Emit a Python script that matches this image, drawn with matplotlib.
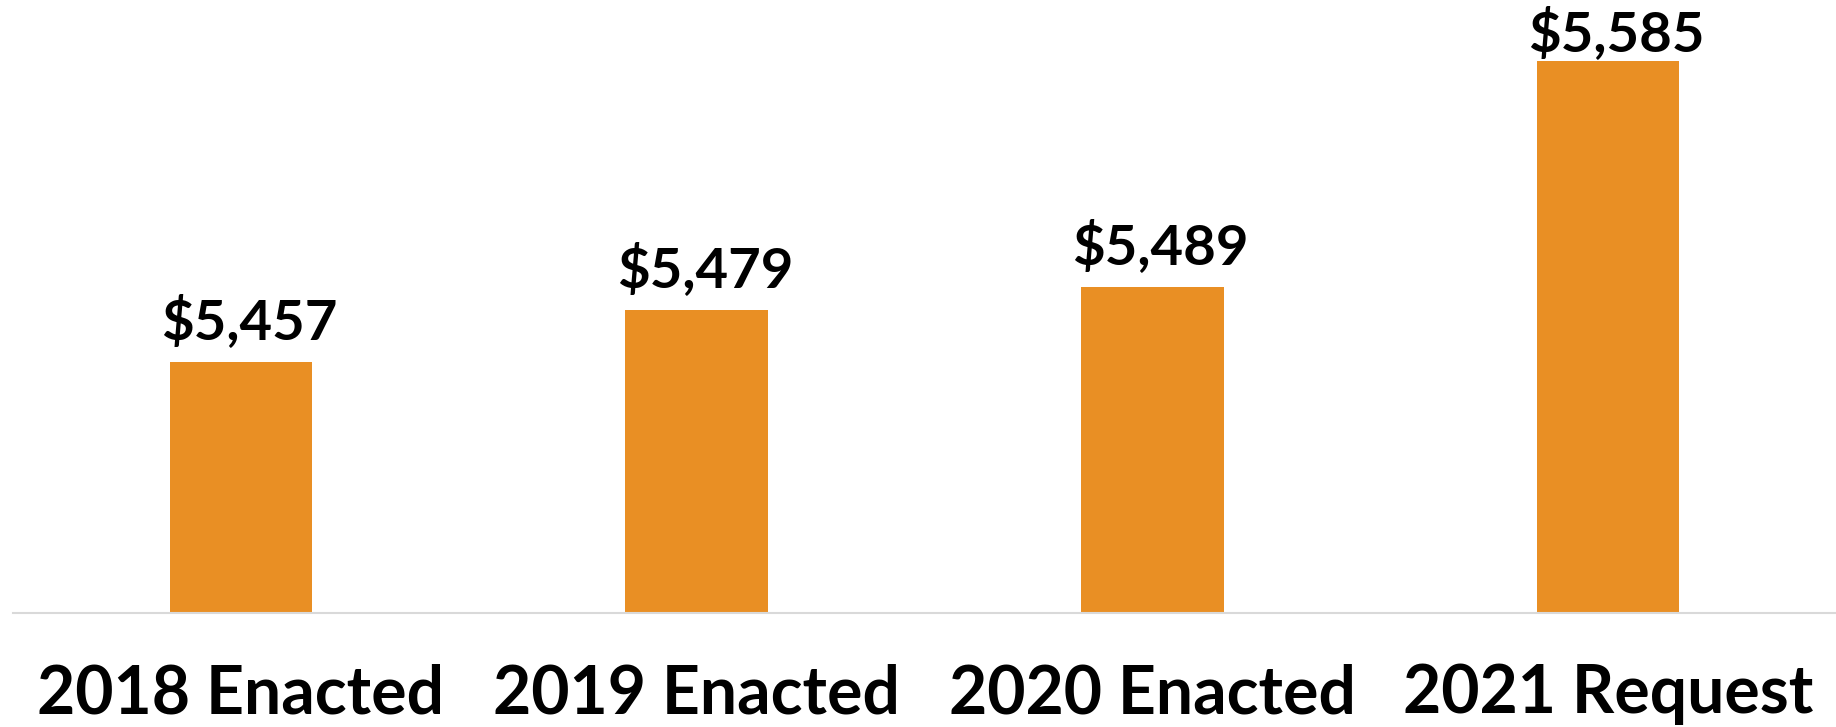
import matplotlib
matplotlib.use("Agg")
import matplotlib.pyplot as plt

categories = ["2018 Enacted", "2019 Enacted", "2020 Enacted", "2021 Request"]
values = [5457, 5479, 5489, 5585]
value_labels = ["$5,457", "$5,479", "$5,489", "$5,585"]

W, H, DPI = 1836, 727, 100
fig = plt.figure(figsize=(W / DPI, H / DPI), dpi=DPI)
ax = fig.add_axes([13 / W, (H - 613) / H, (W - 13) / W, 613 / H])

ymin, ymax = 5350, 5611
ax.bar(range(len(categories)), values, width=0.313, color="#E98F24", zorder=2)
ax.set_xlim(-0.5, len(categories) - 0.5)
ax.set_ylim(ymin, ymax)

for i, (v, lab) in enumerate(zip(values, value_labels)):
    y = min(v + 9.8, ymax - 21.7)
    ax.annotate(lab, (i, y), xytext=(6, 0), textcoords="offset points",
                ha="center", va="baseline", fontsize=40.5, fontweight="bold",
                family=["Lato", "DejaVu Sans"], color="black")

ax.set_xticks(range(len(categories)))
ax.set_xticklabels(categories, fontsize=47.5, fontweight="bold",
                   family=["Lato", "DejaVu Sans"], color="black")
ax.tick_params(axis="x", length=0, pad=36)
ax.set_yticks([])
for s in ["left", "right", "top"]:
    ax.spines[s].set_visible(False)
ax.spines["bottom"].set_color("#d9d9d9")
ax.spines["bottom"].set_linewidth(1.5)

fig.savefig("out.png", dpi=DPI)
